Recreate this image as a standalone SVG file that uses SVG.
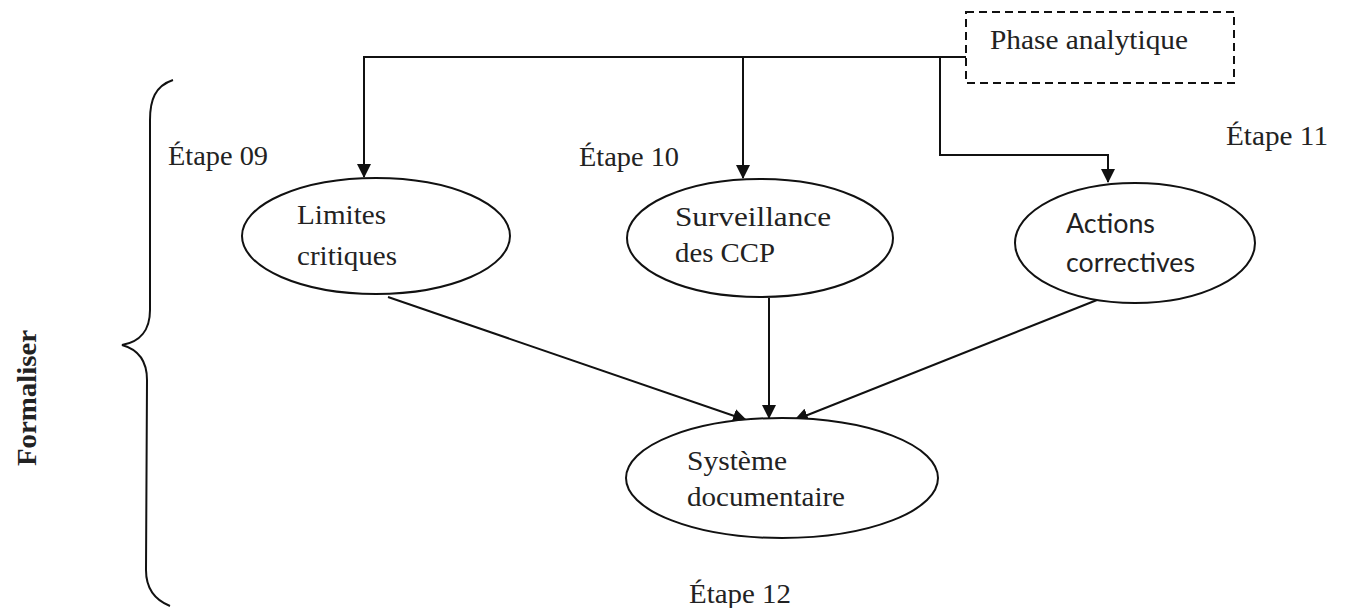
<svg xmlns="http://www.w3.org/2000/svg" width="1346" height="608" viewBox="0 0 1346 608">
<style>
.t{font-family:"Liberation Serif","Times New Roman",serif;font-size:28px;fill:#222}
.s{font-family:Lato,"Liberation Sans",sans-serif;font-size:26px;fill:#222}
.n{fill:#fff;stroke:#111;stroke-width:2}
.c{fill:none;stroke:#111;stroke-width:2}
</style>
<defs>
<marker id="ah" viewBox="0 0 14 14" refX="13" refY="7" markerWidth="14" markerHeight="14" markerUnits="userSpaceOnUse" orient="auto">
<path d="M0,0 L14,7 L0,14 Z" fill="#111"/>
</marker>
</defs>
<rect width="1346" height="608" fill="#fff"/>
<g id="brace">
<path class="c" d="M173,80 C155,86 150,100 150,120 L150,310 C150,330 140,342 122,345 C140,350 147,362 147,380 L146,570 C146,588 155,600 170,606"/>
<text class="t" transform="translate(36,398) rotate(-90)" text-anchor="middle" font-weight="bold" textLength="136" lengthAdjust="spacingAndGlyphs">Formaliser</text>
</g>
<g id="connectors">
<path class="c" d="M966,57 L364,57 L364,177" marker-end="url(#ah)"/>
<path class="c" d="M743,57 L743,178" marker-end="url(#ah)"/>
<path class="c" d="M940,57 L940,155 L1108,155 L1108,182" marker-end="url(#ah)"/>
<path class="c" d="M388,297 L746,420" marker-end="url(#ah)"/>
<path class="c" d="M769,298 L769,418" marker-end="url(#ah)"/>
<path class="c" d="M1097,300 L795,420" marker-end="url(#ah)"/>
</g>
<g id="phase">
<rect x="966" y="12" width="268" height="71" fill="#fff" stroke="#111" stroke-width="2" stroke-dasharray="8,5"/>
<text class="t" x="990" y="49" textLength="198" lengthAdjust="spacingAndGlyphs">Phase analytique</text>
</g>
<g id="limites">
<ellipse class="n" cx="376" cy="236" rx="134" ry="58"/>
<text class="t" x="297" y="224" textLength="89" lengthAdjust="spacingAndGlyphs">Limites</text>
<text class="t" x="297" y="265" textLength="100" lengthAdjust="spacingAndGlyphs">critiques</text>
</g>
<g id="surveillance">
<ellipse class="n" cx="760" cy="238" rx="133" ry="59"/>
<text class="t" x="675" y="226" textLength="156" lengthAdjust="spacingAndGlyphs">Surveillance</text>
<text class="t" x="675" y="262" textLength="100" lengthAdjust="spacingAndGlyphs">des CCP</text>
</g>
<g id="actions">
<ellipse class="n" cx="1135" cy="243" rx="120" ry="60"/>
<text class="s" x="1066" y="233" textLength="89" lengthAdjust="spacingAndGlyphs">Actions</text>
<text class="s" x="1066" y="272" textLength="129" lengthAdjust="spacingAndGlyphs">correctives</text>
</g>
<g id="systeme">
<ellipse class="n" cx="782" cy="478" rx="156" ry="60"/>
<text class="t" x="687" y="470" textLength="100" lengthAdjust="spacingAndGlyphs">Système</text>
<text class="t" x="687" y="506" textLength="158" lengthAdjust="spacingAndGlyphs">documentaire</text>
</g>
<g id="labels">
<text class="t" x="168" y="165" textLength="100" lengthAdjust="spacingAndGlyphs">Étape 09</text>
<text class="t" x="579" y="166" textLength="100" lengthAdjust="spacingAndGlyphs">Étape 10</text>
<text class="t" x="1226" y="145" textLength="102" lengthAdjust="spacingAndGlyphs">Étape 11</text>
<text class="t" x="689" y="603" textLength="102" lengthAdjust="spacingAndGlyphs">Étape 12</text>
</g>
</svg>
